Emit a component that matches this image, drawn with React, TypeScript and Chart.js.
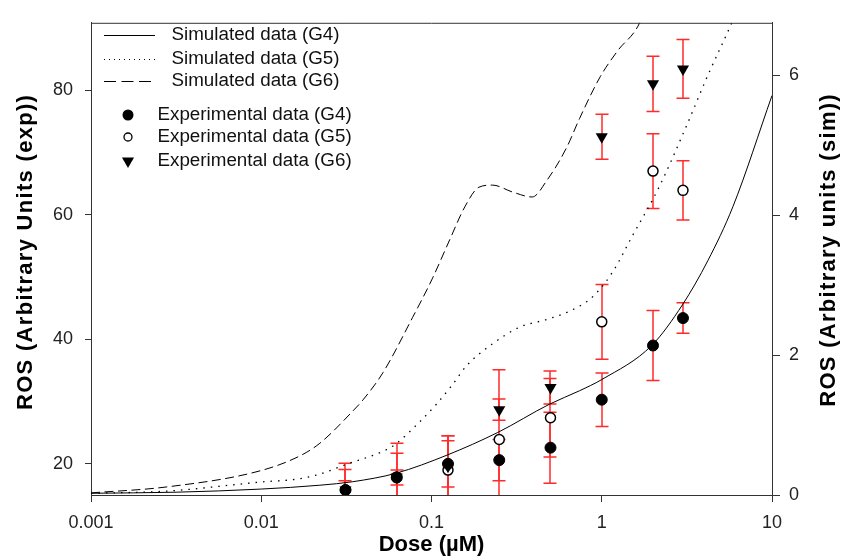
import React, { useEffect, useRef } from "react";
import { Chart, registerables } from "chart.js";

Chart.register(...registerables);

const FONT = '"Liberation Sans", Arial, Helvetica, sans-serif';

// ---- axes / ticks ----
const xTickValues = [0.001, 0.01, 0.1, 1, 10];
const xTickLabels = ["0.001", "0.01", "0.1", "1", "10"];
const yExpTicks = [20, 40, 60, 80];
const ySimTicks = [0, 2, 4, 6];

// ---- experimental data (left axis) ----
const doses = [0.03125, 0.0625, 0.125, 0.25, 0.5, 1, 2, 3];
const expG4 = [15.8, 17.8, 20.0, 20.6, 22.6, 30.3, 39.0, 43.4];
const errG4 = [1.5, 1.2, 3.7, 3.3, 5.7, 4.3, 5.6, 2.45];
const expG5 = [15.8, 17.9, 19.0, 23.9, 27.4, 42.8, 67.0, 63.9];
const errG5 = [3.3, 3.8, 5.5, 11.2, 6.3, 6.0, 6.0, 4.75];
const expG6 = [15.8, 17.9, 19.6, 28.7, 32.25, 72.5, 81.0, 83.4];
const errG6 = [4.3, 5.4, 4.9, 1.7, 2.65, 3.6, 4.45, 4.7];

// ---- simulated data (right axis) ----
const simDoseG4 = [0.001, 0.00316, 0.01, 0.0221, 0.0345, 0.0617, 0.1233, 0.245, 0.495, 0.74, 1.0, 1.97, 2.98, 4.2, 5.89, 10];
const simG4 = [0.025, 0.04, 0.085, 0.14, 0.19, 0.31, 0.57, 0.894, 1.3, 1.49, 1.65, 2.14, 2.72, 3.35, 4.12, 5.71];

const simDoseG5 = [0.001, 0.0028, 0.01, 0.0169, 0.0221, 0.0318, 0.0546, 0.0625, 0.0856, 0.107, 0.133, 0.161, 0.228, 0.33, 0.476, 0.65, 0.89, 1.16, 1.51, 2.17, 3.15, 4.2, 5.8, 8];
const simG5 = [0.024, 0.056, 0.186, 0.233, 0.3, 0.44, 0.65, 0.74, 1.05, 1.3, 1.58, 1.85, 2.16, 2.4, 2.51, 2.63, 2.84, 3.19, 3.7, 4.4, 5.28, 6.0, 6.75, 7.6];

const simDoseG6 = [0.001, 0.0028, 0.01, 0.0169, 0.0221, 0.0345, 0.0396, 0.0519, 0.0775, 0.101, 0.128, 0.157, 0.19, 0.228, 0.3, 0.39, 0.477, 0.62, 0.74, 0.98, 1.24, 1.67, 2.2];
const simG6 = [0.03, 0.116, 0.35, 0.56, 0.74, 1.2, 1.36, 1.75, 2.54, 3.09, 3.65, 4.12, 4.4, 4.43, 4.33, 4.26, 4.5, 4.96, 5.38, 5.98, 6.35, 6.75, 7.6];

// ---- labels ----
const simLabels = ["Simulated data (G4)", "Simulated data (G5)", "Simulated data (G6)"];
const expLabels = ["Experimental data (G4)", "Experimental data (G5)", "Experimental data (G6)"];
const xTitle = "Dose (\u00B5M)";
const yTitle = "ROS (Arbitrary Units (exp))";
const y2Title = "ROS (Arbitrary units (sim))";

const pts = (xs: number[], ys: number[]) => xs.map((x, i) => ({ x, y: ys[i] }));

const DOT_DASH = [1.5, 6];
const DASH = [9, 4.5];

function drawTriangleDown(ctx: CanvasRenderingContext2D, x: number, y: number, r: number) {
  ctx.beginPath();
  ctx.moveTo(x, y + r);
  ctx.lineTo(x - 0.866 * r, y - 0.5 * r);
  ctx.lineTo(x + 0.866 * r, y - 0.5 * r);
  ctx.closePath();
  ctx.fill();
}

const overlayPlugin = {
  id: "overlay",
  beforeDatasetsDraw(chart: any) {
    const { ctx, chartArea, scales } = chart;
    const xs = scales.x;
    const ys = scales.y;
    ctx.save();
    ctx.beginPath();
    ctx.rect(chartArea.left, chartArea.top, chartArea.right - chartArea.left, chartArea.bottom - chartArea.top);
    ctx.clip();
    ctx.strokeStyle = "#ff2a2a";
    ctx.lineWidth = 1.5;
    const series: [number[], number[]][] = [
      [expG6, errG6],
      [expG5, errG5],
      [expG4, errG4],
    ];
    const cap = 6.5;
    for (const [vals, errs] of series) {
      doses.forEach((d, i) => {
        const px = Math.round(xs.getPixelForValue(d));
        const top = ys.getPixelForValue(vals[i] + errs[i]);
        const bot = ys.getPixelForValue(vals[i] - errs[i]);
        ctx.beginPath();
        ctx.moveTo(px, top);
        ctx.lineTo(px, bot);
        ctx.moveTo(px - cap, top);
        ctx.lineTo(px + cap, top);
        ctx.moveTo(px - cap, bot);
        ctx.lineTo(px + cap, bot);
        ctx.stroke();
      });
    }
    ctx.restore();
  },
  afterDraw(chart: any) {
    const { ctx, chartArea } = chart;
    ctx.save();
    // top frame
    ctx.strokeStyle = "#333";
    ctx.lineWidth = 1;
    ctx.beginPath();
    ctx.moveTo(chartArea.left, chartArea.top + 0.5);
    ctx.lineTo(chartArea.right, chartArea.top + 0.5);
    ctx.stroke();

    // legend: simulated lines
    const lx0 = chartArea.left + 13;
    const lx1 = chartArea.left + 64;
    const lineRows = [35, 59, 81];
    const dashes = [[], [1, 4], [12, 5.5]];
    ctx.strokeStyle = "#000";
    ctx.lineWidth = 1;
    ctx.fillStyle = "#111";
    ctx.font = `18.8px ${FONT}`;
    ctx.textAlign = "left";
    ctx.textBaseline = "middle";
    lineRows.forEach((ry, i) => {
      ctx.setLineDash(dashes[i]);
      ctx.beginPath();
      ctx.moveTo(lx0, ry + 0.5);
      ctx.lineTo(lx1, ry + 0.5);
      ctx.stroke();
      ctx.setLineDash([]);
      ctx.fillText(simLabels[i], chartArea.left + 80.5, ry);
    });

    // legend: markers
    const mx = chartArea.left + 37;
    const markerRows = [115, 137, 161];
    ctx.fillStyle = "#000";
    ctx.beginPath();
    ctx.arc(mx, markerRows[0], 5.5, 0, Math.PI * 2);
    ctx.fill();
    ctx.beginPath();
    ctx.arc(mx, markerRows[1], 4, 0, Math.PI * 2);
    ctx.fillStyle = "#fff";
    ctx.fill();
    ctx.lineWidth = 1.3;
    ctx.strokeStyle = "#000";
    ctx.stroke();
    ctx.fillStyle = "#000";
    drawTriangleDown(ctx, mx, markerRows[2], 7);
    ctx.fillStyle = "#111";
    markerRows.forEach((ry, i) => {
      ctx.fillText(expLabels[i], chartArea.left + 66.5, ry);
    });

    // axis titles
    ctx.fillStyle = "#000";
    ctx.font = `bold 22px ${FONT}`;
    ctx.textAlign = "center";
    ctx.textBaseline = "middle";
    ctx.fillText(xTitle, (chartArea.left + chartArea.right) / 2, 545);

    const midY = (chartArea.top + chartArea.bottom) / 2 - 7;
    (ctx as any).letterSpacing = "1.3px";
    ctx.save();
    ctx.translate(26, midY);
    ctx.rotate(-Math.PI / 2);
    ctx.fillText(yTitle, 0, 0);
    ctx.restore();
    ctx.save();
    ctx.translate(829, midY - 2);
    ctx.rotate(-Math.PI / 2);
    ctx.fillText(y2Title, 0, 0);
    ctx.restore();
    (ctx as any).letterSpacing = "0px";
    ctx.restore();
  },
};

export default function App() {
  const ref = useRef<HTMLCanvasElement | null>(null);

  useEffect(() => {
    if (!ref.current) return;
    const tickFont = { family: FONT, size: 18 };
    const chart = new Chart(ref.current, {
      type: "scatter",
      data: {
        datasets: [
          {
            label: expLabels[0],
            data: pts(doses, expG4),
            yAxisID: "y",
            showLine: false,
            pointStyle: "circle",
            pointRadius: 5.5,
            pointBackgroundColor: "#000",
            pointBorderColor: "#000",
            pointBorderWidth: 1,
            order: 1,
          },
          {
            label: expLabels[2],
            data: pts(doses, expG6),
            yAxisID: "y",
            showLine: false,
            pointStyle: "triangle",
            pointRotation: 180,
            pointRadius: 7,
            pointBackgroundColor: "#000",
            pointBorderColor: "#000",
            pointBorderWidth: 0,
            order: 2,
          },
          {
            label: expLabels[1],
            data: pts(doses, expG5),
            yAxisID: "y",
            showLine: false,
            pointStyle: "circle",
            pointRadius: 5,
            pointBackgroundColor: "#fff",
            pointBorderColor: "#000",
            pointBorderWidth: 1.5,
            order: 3,
          },
          {
            label: simLabels[0],
            data: pts(simDoseG4, simG4),
            yAxisID: "y2",
            showLine: true,
            pointRadius: 0,
            borderColor: "#000",
            borderWidth: 1,
            cubicInterpolationMode: "monotone",
            order: 4,
          },
          {
            label: simLabels[1],
            data: pts(simDoseG5, simG5),
            yAxisID: "y2",
            showLine: true,
            pointRadius: 0,
            borderColor: "#000",
            borderWidth: 1.3,
            borderDash: DOT_DASH,
            cubicInterpolationMode: "monotone",
            order: 5,
          },
          {
            label: simLabels[2],
            data: pts(simDoseG6, simG6),
            yAxisID: "y2",
            showLine: true,
            pointRadius: 0,
            borderColor: "#000",
            borderWidth: 1,
            borderDash: DASH,
            cubicInterpolationMode: "monotone",
            order: 6,
          },
        ],
      } as any,
      options: {
        animation: false,
        responsive: false,
        events: [],
        layout: { padding: { top: 12, left: 0, right: 0, bottom: 0 } },
        plugins: { legend: { display: false }, tooltip: { enabled: false }, title: { display: false } },
        scales: {
          x: {
            type: "logarithmic",
            position: "bottom",
            min: 0.001,
            max: 10,
            afterBuildTicks: (s: any) => {
              s.ticks = xTickValues.map((v) => ({ value: v }));
            },
            afterFit: (s: any) => {
              s.height = 61;
            },
            ticks: {
              autoSkip: false,
              maxRotation: 0,
              minRotation: 0,
              padding: 10,
              color: "#222",
              font: tickFont,
              callback: (_v: any, i: number) => xTickLabels[i],
            },
            grid: { drawOnChartArea: false, drawTicks: true, tickLength: 7, color: "#333", tickColor: "#333" },
            border: { display: true, color: "#333", width: 1 },
          },
          y: {
            type: "linear",
            position: "left",
            min: 15,
            max: 90.8,
            afterBuildTicks: (s: any) => {
              s.ticks = yExpTicks.map((v) => ({ value: v }));
            },
            afterFit: (s: any) => {
              s.width = 91;
            },
            ticks: { padding: 12, color: "#222", font: tickFont, callback: (v: any) => String(v) },
            grid: { drawOnChartArea: false, drawTicks: true, tickLength: 6, color: "#333", tickColor: "#333" },
            border: { display: true, color: "#333", width: 1 },
          },
          y2: {
            type: "linear",
            position: "right",
            min: 0,
            max: 6.75,
            afterBuildTicks: (s: any) => {
              s.ticks = ySimTicks.map((v) => ({ value: v }));
            },
            afterFit: (s: any) => {
              s.width = 71;
            },
            ticks: { padding: 9, color: "#222", font: tickFont, callback: (v: any) => String(v) },
            grid: { drawOnChartArea: false, drawTicks: true, tickLength: 8, color: "#333", tickColor: "#333" },
            border: { display: true, color: "#333", width: 1 },
          },
        },
      } as any,
      plugins: [overlayPlugin],
    });
    return () => chart.destroy();
  }, []);

  return (
    <div style={{ position: "fixed", left: 0, top: 0, width: 843, height: 556, background: "#fff" }}>
      <canvas ref={ref} width={843} height={556} style={{ display: "block", width: 843, height: 556 }} />
    </div>
  );
}
